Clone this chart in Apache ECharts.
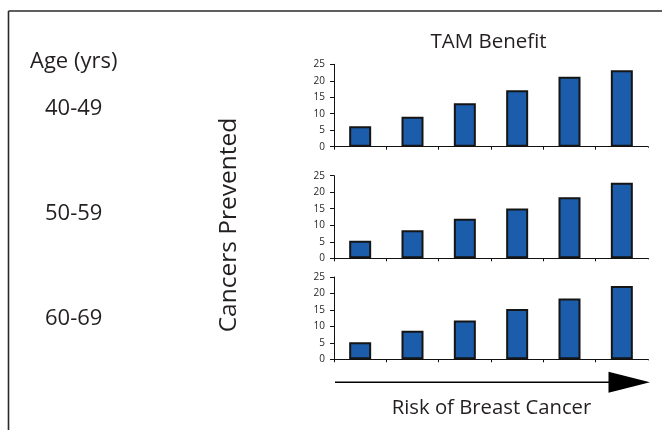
<!DOCTYPE html>
<html>
<head>
<meta charset="utf-8">
<script src="https://cdn.jsdelivr.net/npm/echarts@6/dist/echarts.min.js"></script>
<style>
  html, body { margin: 0; padding: 0; background: #fff; }
  #chart { width: 662px; height: 430px; }
</style>
</head>
<body>
<div id="chart"></div>
<script>
// ---- data ----
const riskLevels = ['1', '2', '3', '4', '5', '6'];
const ageGroups = ['40-49', '50-59', '60-69'];
const benefit4049 = [6.2, 9.1, 13.2, 17.1, 21.2, 23.2];
const benefit5059 = [5.3, 8.5, 12, 15.1, 18.5, 22.9];
const benefit6069 = [5.2, 8.7, 11.8, 15.3, 18.5, 22.3];
const yTicks = { min: 0, max: 25, interval: 5 };

const seriesData = [benefit4049, benefit5059, benefit6069];
const gridTops = [64.3, 175.7, 277];
const gridBottomsPx = [146.7, 258.3, 359.3];

const font = '"Open Sans", "Noto Sans", sans-serif';
const textColor = '#231f20';

const grids = [], xAxes = [], yAxes = [], series = [];
seriesData.forEach((d, i) => {
  grids.push({ left: 334, right: 14, top: gridTops[i], height: gridBottomsPx[i] - gridTops[i] });
  xAxes.push({
    type: 'category', gridIndex: i, data: riskLevels, boundaryGap: true,
    axisLine: { lineStyle: { color: '#111', width: 1.2 } },
    axisTick: { show: true, length: 3, lineStyle: { color: '#111', width: 1 } },
    axisLabel: { show: false }
  });
  yAxes.push({
    type: 'value', gridIndex: i, min: yTicks.min, max: yTicks.max, interval: yTicks.interval,
    splitLine: { show: false },
    axisLine: { show: true, lineStyle: { color: '#111', width: 1 } },
    axisTick: { show: true, length: 4, lineStyle: { color: '#111', width: 1 } },
    axisLabel: { fontSize: 10, color: textColor, fontFamily: font, margin: 9 }
  });
  series.push({
    type: 'bar', xAxisIndex: i, yAxisIndex: i, data: d, barWidth: 22,
    itemStyle: { color: '#1c5dab', borderColor: '#151515', borderWidth: 2 },
    silent: true, animation: false
  });
});

const chart = echarts.init(document.getElementById('chart'));
chart.setOption({
  animation: false,
  backgroundColor: '#fff',
  grid: grids, xAxis: xAxes, yAxis: yAxes, series: series,
  graphic: [
    // frame lines
    { type: 'line', shape: { x1: 8.5, y1: 11, x2: 662, y2: 11 }, style: { stroke: '#2a2a2a', lineWidth: 1.6 } },
    { type: 'line', shape: { x1: 8.5, y1: 11, x2: 8.5, y2: 430 }, style: { stroke: '#2a2a2a', lineWidth: 1.6 } },
    // hide the trailing boundary tick of each x axis
    ...gridBottomsPx.map(y => ({ type: 'rect', z: 100, shape: { x: 646.5, y: y + 1, width: 6, height: 5 }, style: { fill: '#fff' } })),
    // texts
    { type: 'text', x: 488.5, y: 42, style: { text: 'TAM Benefit', font: '20.5px ' + font, fill: textColor, align: 'center', verticalAlign: 'middle' } },
    { type: 'text', x: 30, y: 62, style: { text: 'Age (yrs)', font: '22px ' + font, fill: textColor, verticalAlign: 'middle' } },
    ...ageGroups.map((g, i) => ({ type: 'text', x: 45, y: [108.5, 213.5, 318.5][i],
      style: { text: g, font: '22px ' + font, fill: textColor, verticalAlign: 'middle' } })),
    { type: 'text', x: 229, y: 225, rotation: Math.PI / 2,
      style: { text: 'Cancers Prevented', font: '24.5px ' + font, fill: textColor, align: 'center', verticalAlign: 'middle' } },
    // arrow
    { type: 'line', shape: { x1: 335, y1: 382.3, x2: 612, y2: 382.3 }, style: { stroke: '#000', lineWidth: 1.6 } },
    { type: 'polygon', shape: { points: [[608.5, 371.7], [650, 382.3], [608.5, 392.8]] }, style: { fill: '#000' } },
    { type: 'text', x: 491.5, y: 408, style: { text: 'Risk of Breast Cancer', font: '20.3px ' + font, fill: textColor, align: 'center', verticalAlign: 'middle' } }
  ]
});
</script>
</body>
</html>
